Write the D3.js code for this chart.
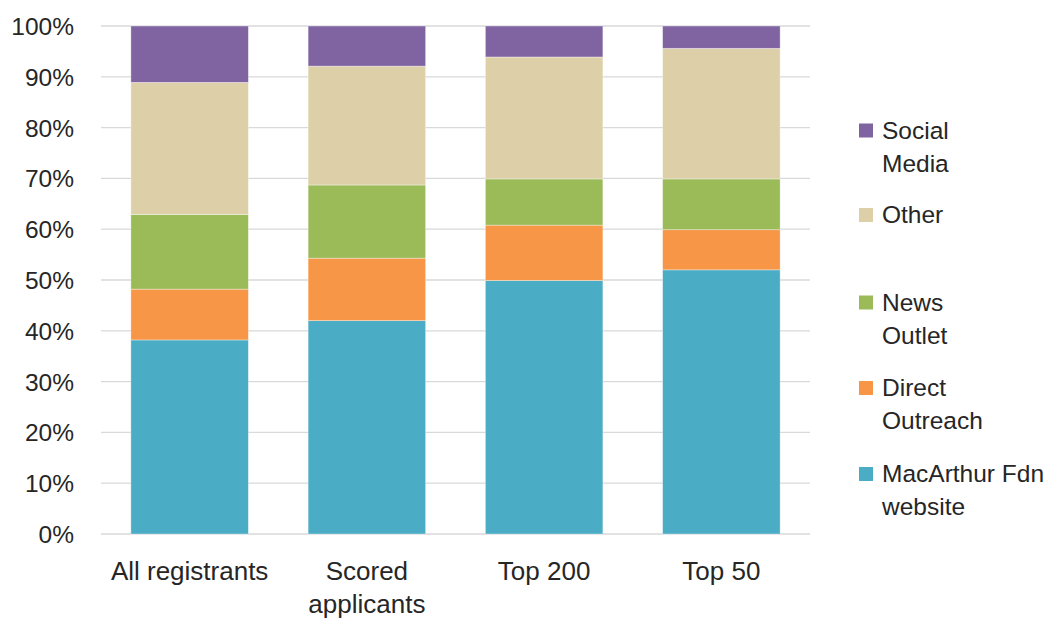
<!DOCTYPE html>
<html>
<head>
<meta charset="utf-8">
<script src="https://cdn.jsdelivr.net/npm/d3@7/dist/d3.min.js"></script>
<style>
  html, body { margin: 0; padding: 0; background: #fff; }
  svg { display: block; }
  text { font-family: "Liberation Sans", Arial, sans-serif; fill: #262626; }
</style>
</head>
<body>
<svg id="chart" width="1058" height="619"></svg>
<script>
// ---- data ----
const categories = [["All registrants"], ["Scored", "applicants"], ["Top 200"], ["Top 50"]];
const seriesNames = ["MacArthur Fdn website", "Direct Outreach", "News Outlet", "Other", "Social Media"];
const legendLabels = [["MacArthur Fdn", "website"], ["Direct", "Outreach"], ["News", "Outlet"], ["Other"], ["Social", "Media"]];
const macarthur = [38.2, 42.0, 49.9, 52.0];
const direct    = [10.0, 12.3, 10.9, 7.9];
const news      = [14.7, 14.4, 9.1, 10.0];
const other     = [26.0, 23.4, 24.0, 25.7];
const social    = [11.1, 7.9, 6.1, 4.4];
const yTicks = [0, 10, 20, 30, 40, 50, 60, 70, 80, 90, 100];
const colors = ["#4BACC6", "#F79646", "#9BBB59", "#DDD0A8", "#8064A2"];

const seriesValues = [macarthur, direct, news, other, social];
const rows = categories.map((c, i) => {
  const r = { key: i };
  seriesNames.forEach((s, j) => r[s] = seriesValues[j][i]);
  return r;
});

const svg = d3.select("#chart");
const plot = { left: 101, right: 810, top: 26, bottom: 534 };

const x = d3.scaleBand().domain(d3.range(categories.length))
  .range([plot.left, plot.right]).paddingInner(0.337).paddingOuter(0.1685);
const y = d3.scaleLinear().domain([0, 100]).range([plot.bottom, plot.top]);

// grid
svg.append("g").selectAll("line").data(yTicks).join("line")
  .attr("x1", plot.left).attr("x2", plot.right)
  .attr("y1", d => y(d)).attr("y2", d => y(d))
  .attr("stroke", "#d9d9d9").attr("stroke-width", 1.3);

// y labels
const yAxis = d3.axisLeft(y).tickValues(yTicks).tickFormat(d => d + "%").tickSize(0).tickPadding(0);
const yg = svg.append("g").attr("transform", "translate(74,0)").call(yAxis);
yg.select(".domain").remove();
yg.selectAll("text").attr("font-size", 24.5).style("font-family", '"Liberation Sans", Arial, sans-serif').attr("fill", "#262626").attr("dy", "0.35em");

// stacks
const stack = d3.stack().keys(seriesNames)(rows);
svg.append("g").selectAll("g").data(stack).join("g")
  .attr("fill", (d, i) => colors[i])
  .selectAll("rect").data(d => d).join("rect")
  .attr("x", (d, i) => x(i))
  .attr("width", x.bandwidth())
  .attr("y", d => y(d[1]))
  .attr("height", d => y(d[0]) - y(d[1]))
  .attr("stroke", "rgba(255,255,255,0.45)").attr("stroke-width", 0.8);

// x labels
const xl = svg.append("g").selectAll("text").data(categories).join("text")
  .attr("text-anchor", "middle")
  .attr("font-size", 26)
  .attr("x", (d, i) => x(i) + x.bandwidth() / 2)
  .attr("y", 580);
xl.selectAll("tspan").data(d => d).join("tspan")
  .attr("x", function() { return d3.select(this.parentNode).attr("x"); })
  .attr("dy", (d, i) => i === 0 ? 0 : 33)
  .text(d => d);

// legend (top-to-bottom reverse order)
const legendY = [474, 388, 302.5, 215, 130.5];
const lg = svg.append("g").selectAll("g").data(seriesNames).join("g")
  .attr("transform", (d, i) => `translate(859,${legendY[i]})`);
lg.append("rect").attr("x", 0).attr("y", -7).attr("width", 14).attr("height", 14)
  .attr("fill", (d, i) => colors[i]);
const lt = lg.append("text").attr("x", 23).attr("y", 8).attr("font-size", 24.5);
lt.selectAll("tspan").data((d, i) => legendLabels[i]).join("tspan")
  .attr("x", 23).attr("dy", (d, i) => i === 0 ? 0 : 33.3)
  .text(d => d);
</script>
</body>
</html>
